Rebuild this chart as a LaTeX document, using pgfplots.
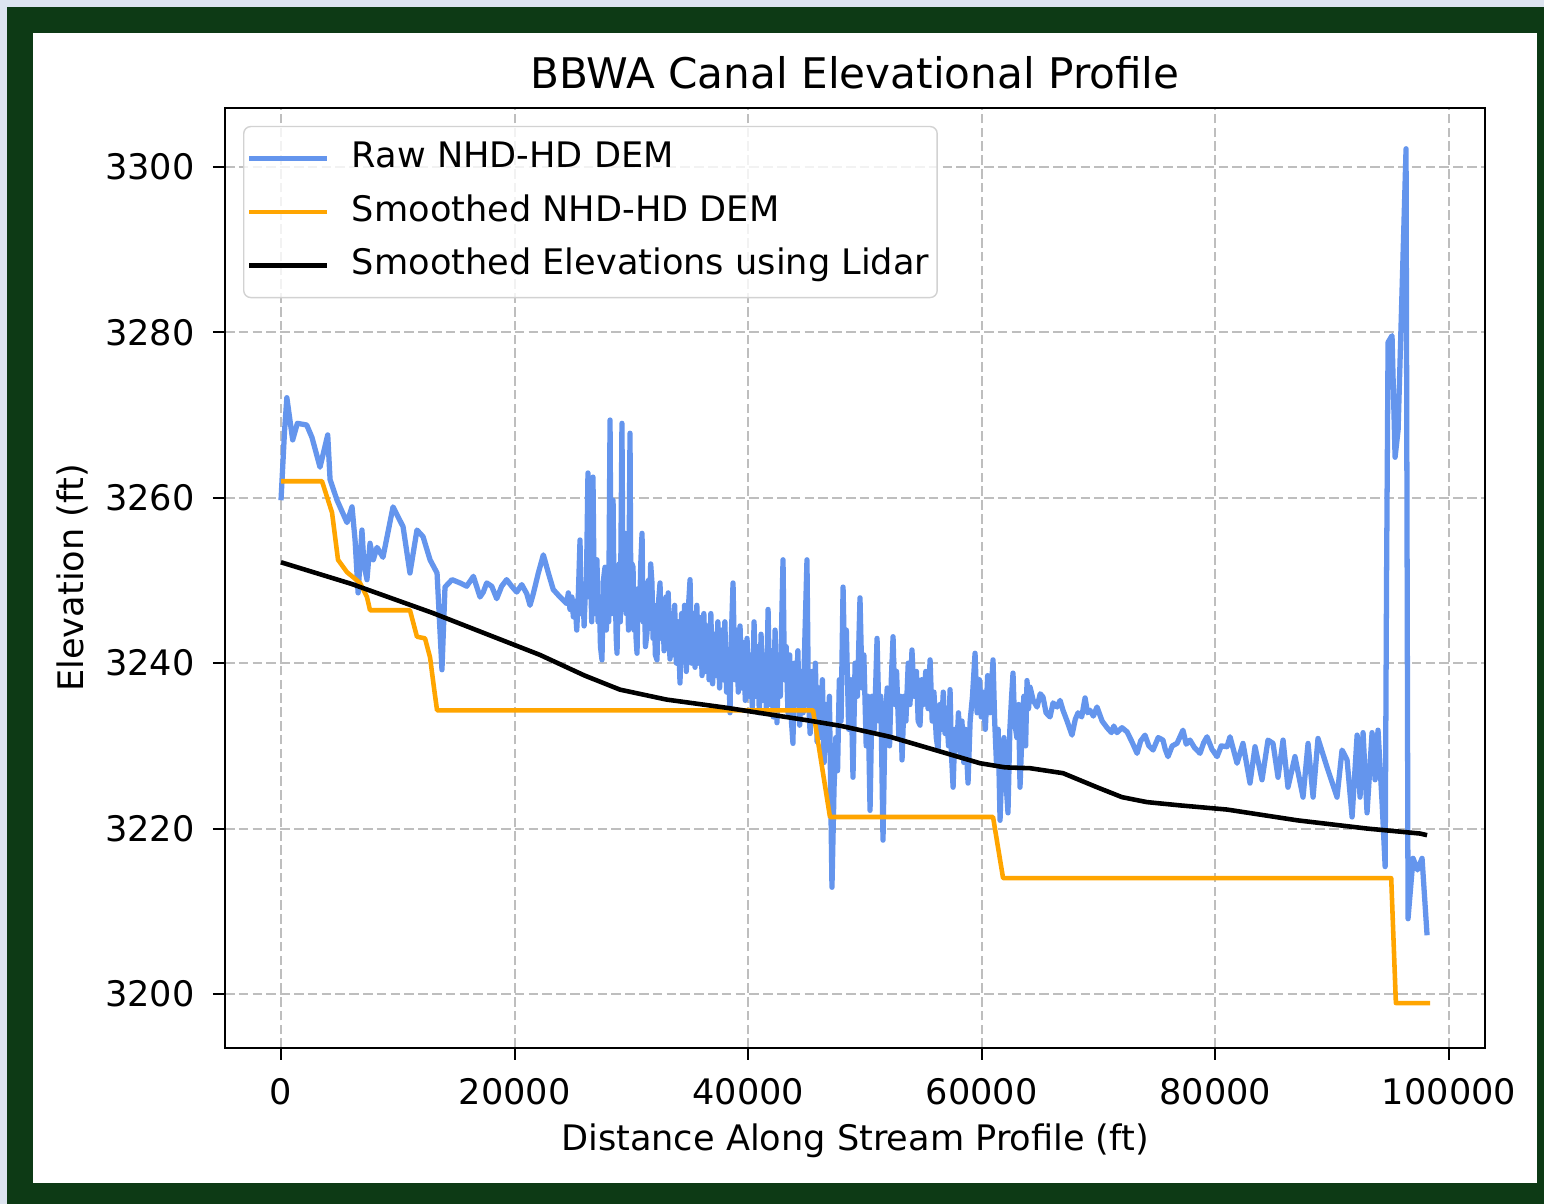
\documentclass[border=0pt]{standalone}
\usepackage{pgfplots}
\pgfplotsset{compat=1.18}
\usepackage{fontspec}
\setmainfont{DejaVu Sans}

\definecolor{rawblue}{RGB}{100,149,237}
\definecolor{smorange}{RGB}{255,165,0}
\definecolor{framegreen}{RGB}{13,58,21}
\definecolor{edgeblue}{RGB}{221,228,240}
\definecolor{gridgray}{RGB}{190,190,190}
\definecolor{legedge}{RGB}{210,210,210}

\begin{document}
\begin{tikzpicture}
% page background and frame (1 px of the reference = 0.1 mm)
\fill[edgeblue] (0mm,0mm) rectangle (154.4mm,120.4mm);
\fill[framegreen] (0.7mm,0mm) rectangle (154.4mm,119.7mm);
\fill[white] (3.3mm,2.1mm) rectangle (153.7mm,117.1mm);

\begin{axis}[
    at={(22.5mm,15.6mm)},
    anchor=south west,
    scale only axis,
    width=126mm,
    height=94mm,
    xmin=-4795, xmax=103080,
    ymin=3193.47, ymax=3307.13,
    xtick={0,20000,40000,60000,80000,100000},
    ytick={3200,3220,3240,3260,3280,3300},
    scaled x ticks=false,
    scaled y ticks=false,
    /pgf/number format/.cd, fixed, 1000 sep={}, assume math mode=true,
    /pgfplots/.cd,
    tick pos=left,
    tick align=outside,
    major tick length=1.2mm,
    tick style={black, line width=0.6pt},
    tick label style={font=\fontsize{10}{12}\selectfont},
    yticklabel style={xshift=-0.6mm},
    xticklabel style={yshift=-0.6mm},
    axis line style={black, line width=0.6pt},
    grid=major,
    major grid style={gridgray, line width=0.6pt, dash pattern=on 0.96mm off 0.42mm},
    title={BBWA Canal Elevational Profile},
    title style={font=\fontsize{12}{14}\selectfont, yshift=-1.5mm},
    xlabel={Distance Along Stream Profile (ft)},
    ylabel={Elevation (ft)},
    label style={font=\fontsize{10}{12}\selectfont},
    xlabel style={at={(axis description cs:0.5,0)}, anchor=center, yshift=-9.3mm},
    ylabel style={at={([xshift=-15.3mm]axis description cs:0,0.5)}, anchor=center},
    legend style={
        at={(0.0143,0.981)}, anchor=north west,
        draw=legedge, rounded corners=2pt,
        fill=white, fill opacity=0.8, text opacity=1,
        font=\fontsize{10}{12}\selectfont,
        inner xsep=0.3mm, inner ysep=1mm,
        row sep=0.95mm,
        nodes={inner sep=0.5mm, text height=2.6mm, text depth=0.8mm},
    },
    legend cell align=left,
    legend image code/.code={
        \draw[#1] (0mm,0mm) -- (7.8mm,0mm);
        \path (9.5mm,0mm);
    },
    every axis plot/.append style={line width=1.3pt, line join=round},
]

\addplot[rawblue, line width=1.5pt] coordinates {
(0,3259.7) (300,3268.0) (500,3272.1) (1000,3267.0) (1400,3269.0)
(2200,3268.8) (2650,3267.3) (3340,3263.7) (4000,3267.6) (4200,3262.2)
(4800,3259.7) (5650,3257.0) (6080,3258.9) (6340,3254.9) (6600,3248.5)
(6930,3256.1) (7100,3252.0) (7360,3250.1) (7620,3254.5) (7900,3252.5)
(8220,3254.0) (8730,3252.8) (9590,3258.9) (10020,3257.7) (10450,3256.5)
(11040,3250.9) (11640,3256.1) (12160,3255.3) (12760,3252.5) (13360,3250.9)
(13780,3239.2) (14040,3249.2) (14640,3250.1) (15330,3249.7) (15900,3249.3)
(16470,3250.5) (17040,3248.0) (17320,3248.6) (17610,3249.7) (18040,3249.3)
(18470,3247.8) (18890,3249.3) (19320,3250.1) (19750,3249.3) (20180,3248.6)
(20610,3249.5) (21040,3248.4) (21320,3247.0) (21600,3248.4) (22030,3250.9)
(22460,3253.1) (22890,3250.9) (23310,3248.9) (23890,3248.0) (24460,3247.2)
(24600,3248.5) (24740,3246.5) (24900,3248.0) (25030,3245.6) (25170,3247.5)
(25320,3244.0) (25450,3248.0) (25600,3254.9) (25700,3246.0) (25850,3249.0)
(25950,3244.5) (26030,3247.6) (26150,3250.0) (26280,3263.0) (26400,3248.0)
(26500,3251.0) (26600,3245.0) (26710,3262.5) (26800,3250.0) (26900,3246.0)
(27000,3250.0) (27050,3252.5) (27150,3245.0) (27250,3248.0) (27350,3242.0)
(27480,3240.4) (27600,3250.0) (27740,3251.6) (27850,3244.0) (27950,3249.0)
(28050,3245.0) (28170,3269.4) (28250,3251.0) (28350,3246.0) (28430,3259.7)
(28520,3247.0) (28600,3250.0) (28700,3243.0) (28770,3241.2) (28850,3249.0)
(28950,3252.0) (29050,3245.0) (29190,3269.0) (29280,3248.0) (29350,3252.0)
(29450,3255.7) (29550,3246.0) (29650,3250.0) (29750,3244.0) (29880,3267.8)
(29950,3248.0) (30050,3252.0) (30140,3251.6) (30220,3244.0) (30300,3249.0)
(30400,3243.0) (30480,3241.2) (30580,3249.0) (30700,3246.0) (30800,3252.0)
(30910,3255.7) (31000,3245.0) (31100,3249.0) (31200,3242.0) (31340,3243.7)
(31450,3250.0) (31550,3246.0) (31650,3252.0) (31760,3249.7) (31850,3243.0)
(31950,3247.0) (32050,3241.0) (32190,3240.4) (32300,3247.0) (32450,3249.7)
(32550,3243.0) (32650,3247.5) (32800,3241.5) (32950,3248.0) (33050,3242.0)
(33150,3248.5) (33300,3240.5) (33400,3246.0) (33550,3241.0) (33700,3247.0)
(33850,3240.0) (34000,3245.0) (34160,3237.6) (34300,3246.0) (34400,3240.5)
(34550,3247.0) (34700,3239.0) (34850,3246.0) (35020,3250.1) (35150,3240.0)
(35300,3246.0) (35450,3239.5) (35600,3247.0) (35750,3240.0) (35900,3245.5)
(36050,3238.5) (36200,3246.0) (36350,3239.0) (36500,3244.5) (36650,3238.0)
(36800,3246.0) (36950,3237.5) (37100,3243.5) (37250,3238.5) (37400,3245.0)
(37550,3237.0) (37700,3244.0) (37850,3238.0) (38000,3245.0) (38150,3236.5)
(38300,3241.0) (38440,3234.0) (38550,3243.0) (38700,3249.7) (38850,3238.0)
(39000,3244.0) (39150,3236.5) (39300,3244.5) (39450,3237.0) (39600,3242.5)
(39750,3235.5) (39900,3243.0) (40050,3236.0) (40200,3241.0) (40350,3234.5)
(40500,3245.0) (40650,3236.0) (40800,3242.0) (40950,3234.0) (41100,3243.5)
(41250,3235.5) (41400,3241.0) (41550,3234.5) (41700,3246.5) (41850,3235.0)
(42000,3241.5) (42150,3233.5) (42300,3244.0) (42460,3232.8) (42600,3241.0)
(42750,3236.0) (42880,3246.0) (42980,3252.5) (43100,3238.0) (43250,3242.0)
(43400,3234.0) (43550,3241.0) (43700,3233.0) (43830,3230.3) (43950,3240.0)
(44100,3235.0) (44250,3241.5) (44400,3232.5) (44550,3239.0) (44700,3234.0)
(44850,3243.0) (45030,3252.5) (45150,3236.0) (45300,3231.5) (45450,3239.0)
(45600,3233.0) (45750,3240.0) (45900,3230.5) (46050,3237.0) (46200,3231.0)
(46350,3238.0) (46500,3228.0) (46650,3235.0) (46800,3229.5) (46950,3236.0)
(47170,3212.9) (47350,3225.0) (47500,3231.0) (47650,3227.0) (47800,3238.0)
(47950,3233.0) (48120,3249.2) (48250,3240.0) (48400,3244.0) (48600,3232.0)
(48800,3238.0) (48970,3226.2) (49150,3240.0) (49350,3236.0) (49570,3247.9)
(49750,3237.0) (49900,3241.0) (50100,3230.0) (50250,3236.0) (50430,3222.2)
(50600,3236.0) (50800,3232.0) (51030,3243.0) (51200,3233.0) (51350,3236.0)
(51540,3218.6) (51700,3232.0) (51900,3237.0) (52100,3230.0) (52250,3238.0)
(52400,3243.2) (52550,3235.0) (52700,3239.0) (52900,3231.0) (53050,3236.0)
(53170,3228.3) (53350,3236.0) (53500,3233.0) (53700,3240.0) (53850,3235.0)
(54020,3241.6) (54200,3236.0) (54400,3239.0) (54550,3233.0) (54710,3232.5)
(54850,3238.0) (55000,3235.0) (55200,3239.0) (55400,3234.5) (55570,3240.4)
(55750,3233.0) (55900,3236.5) (56100,3231.0) (56250,3229.5) (56400,3235.0)
(56550,3232.0) (56700,3236.5) (56850,3231.5) (57000,3234.0) (57150,3230.0)
(57280,3236.8) (57400,3229.0) (57540,3225.0) (57700,3232.0) (57850,3229.5)
(58000,3234.0) (58150,3229.0) (58300,3233.0) (58450,3228.0) (58600,3232.0)
(58820,3225.5) (59000,3233.0) (59200,3236.0) (59420,3241.2) (59600,3234.0)
(59800,3238.0) (59950,3233.5) (60100,3236.5) (60300,3232.0) (60500,3238.5)
(60700,3234.0) (60960,3240.4) (61100,3233.0) (61250,3228.0) (61400,3232.0)
(61560,3221.0) (61750,3229.0) (61900,3231.0) (62050,3226.0) (62240,3221.9)
(62400,3232.0) (62550,3236.0) (62670,3238.8) (62800,3233.0) (63000,3231.0)
(63150,3235.0) (63270,3225.0) (63450,3232.0) (63600,3236.0) (63750,3230.0)
(63870,3237.9) (64000,3234.5) (64130,3237.1) (64400,3235.5) (64730,3234.7)
(65000,3236.3) (65240,3235.9) (65500,3234.0) (65840,3233.5) (66100,3235.2)
(66440,3234.7) (66700,3235.5) (66950,3234.3) (67300,3233.0) (67720,3231.3)
(68000,3233.2) (68240,3234.0) (68550,3233.5) (68840,3235.8) (69050,3234.0)
(69260,3234.3) (69550,3233.6) (69860,3234.7) (70300,3233.0) (70720,3232.2)
(71100,3231.6) (71300,3232.4) (71570,3231.6) (72000,3232.2) (72430,3231.7)
(72850,3230.5) (73290,3229.1) (73600,3230.6) (73970,3231.3) (74300,3230.0)
(74660,3229.5) (75100,3231.0) (75510,3230.7) (75700,3229.6) (75940,3228.7)
(76300,3230.0) (76710,3230.3) (77000,3231.2) (77220,3231.9) (77500,3230.2)
(77820,3230.7) (78200,3229.8) (78680,3229.1) (79000,3230.4) (79280,3231.1)
(79700,3229.6) (80140,3228.7) (80500,3230.0) (80990,3229.9) (81250,3231.1)
(81850,3227.9) (82360,3230.3) (82960,3225.5) (83390,3229.9) (83990,3225.9)
(84500,3230.7) (84930,3230.3) (85360,3226.2) (85790,3230.7) (86210,3225.0)
(86810,3228.7) (87500,3223.8) (87930,3230.3) (88360,3223.8) (88780,3230.9)
(89560,3227.4) (90410,3223.8) (90840,3229.5) (91270,3228.3) (91700,3221.4)
(92130,3231.3) (92380,3223.8) (92640,3231.6) (92980,3221.9) (93410,3231.6)
(93670,3225.9) (93920,3231.9) (94270,3223.1) (94530,3215.4) (94650,3250.0)
(94780,3278.8) (95120,3279.6) (95380,3264.9) (95640,3268.2) (96320,3302.2)
(96490,3209.1) (96920,3216.4) (97300,3215.0) (97690,3216.4) (98120,3207.1)
};
\addlegendentry{Raw NHD-HD DEM}

\addplot[smorange] coordinates {
(0,3262.0) (3510,3262.0) (4370,3258.2) (4880,3252.5) (5650,3251.0)
(6170,3250.4) (6760,3249.7) (7360,3248.0) (7620,3246.4) (11040,3246.4)
(11640,3243.2) (12330,3243.0) (12760,3240.7) (13100,3237.0) (13360,3234.3)
(45550,3234.3) (47000,3221.4) (60960,3221.4) (61820,3214.0) (95050,3214.0)
(95450,3198.9) (98370,3198.9)
};
\addlegendentry{Smoothed NHD-HD DEM}

\addplot[black] coordinates {
(0,3252.2) (6000,3249.6) (12930,3246.1) (18000,3243.3) (22170,3241.0)
(26000,3238.5) (29020,3236.8) (33000,3235.6) (38180,3234.6) (45030,3233.1)
(48000,3232.4) (52140,3231.1) (56000,3229.5) (59850,3227.9) (62000,3227.4)
(64130,3227.3) (66950,3226.7) (69860,3225.0) (72000,3223.8) (74140,3223.2)
(77000,3222.8) (81000,3222.3) (87000,3221.0) (93000,3220.0) (97520,3219.4)
(98120,3219.2)
};
\addlegendentry{Smoothed Elevations using Lidar\hspace{1.2mm}}

\end{axis}
\end{tikzpicture}
\end{document}
